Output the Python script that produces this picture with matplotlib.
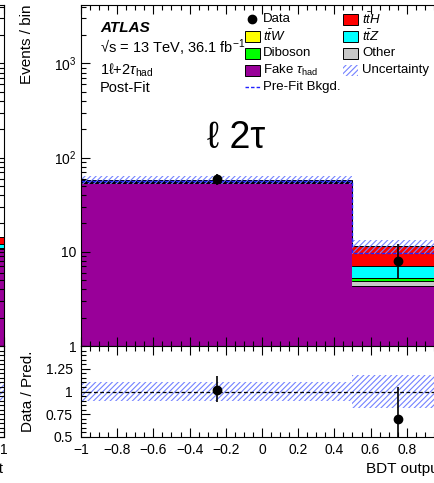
import numpy as np
import matplotlib
matplotlib.use("Agg")
import matplotlib.pyplot as plt
from matplotlib.patches import Rectangle
from matplotlib.lines import Line2D
from matplotlib.ticker import (FixedLocator, FixedFormatter, MultipleLocator,
                               LogLocator, NullFormatter, FuncFormatter)

plt.rcParams['font.family'] = ['Liberation Sans', 'DejaVu Sans']
plt.rcParams['mathtext.fontset'] = 'custom'
plt.rcParams['mathtext.rm'] = 'Liberation Sans'
plt.rcParams['mathtext.it'] = 'Liberation Sans:italic'
plt.rcParams['mathtext.bf'] = 'Liberation Sans:bold'
plt.rcParams['hatch.linewidth'] = 0.8

# binning of the BDT output
BINS = np.array([-1.0, 0.5, 1.0])
CENTERS = np.array([-0.25, 0.75])

# post-fit stack (bottom to top)
FAKE = np.array([53.5, 4.37])
OTHER = np.array([0.8, 0.48])
DIBOSON = np.array([0.6, 0.42])
TTW = np.array([0.5, 0.05])
TTZ = np.array([0.9, 1.7])
TTH = np.array([1.6, 4.4])

DATA = np.array([59.0, 8.0])
DATA_UP = np.array([8.7, 3.98])
DATA_DN = np.array([7.7, 2.76])
PREFIT_BKG = np.array([56.5, 9.8])
REL_UNC = np.array([0.105, 0.18])

# neighbouring panel, only its last bin shows at the left edge
LEFT_BINS = np.array([0.5, 1.0])
LEFT_FAKE = np.array([10.8])
LEFT_OTHER = np.array([0.1])
LEFT_DIBOSON = np.array([0.1])
LEFT_TTW = np.array([0.1])
LEFT_TTZ = np.array([1.1])
LEFT_TTH = np.array([2.0])
LEFT_REL_UNC = np.array([0.1])

COLORS = {'fake': '#990099', 'other': '#c8c8c8', 'diboson': '#00ff00',
          'ttw': '#ffff00', 'ttz': '#00ffff', 'tth': '#ff0000'}
HATCH_COL = '#7482ff'

W, H = 435, 483


def fx(px):
    return px / W


def fy(py):
    return 1 - py / H


def draw_stack(ax, bins, comps):
    # filled bars without edges, then a step outline for each layer
    widths = np.diff(bins)
    bottom = np.zeros(len(widths))
    for vals, col in comps:
        ax.bar(bins[:-1], vals, width=widths, bottom=bottom, align='edge',
               color=col, edgecolor='none', linewidth=0)
        bottom = bottom + vals
        ax.stairs(bottom, bins, baseline=None, color='black', linewidth=0.7)
    return bottom


def style_axes(ax):
    for sp in ax.spines.values():
        sp.set_linewidth(0.8)
        sp.set_zorder(6)
    ax.tick_params(which='both', direction='in', top=True, right=True,
                   width=0.8, labelsize=10)
    ax.tick_params(which='major', length=6.5)
    ax.tick_params(which='minor', length=3.3)


def fmt_x(v, _):
    if abs(v) < 1e-9:
        return '0'
    return f"{round(v, 2):g}".replace('-', '\u2212')


fig = plt.figure(figsize=(4.35, 4.83), dpi=100)

ax_w = 362 / W
main_b, main_h = fy(346), (346 - 5) / H
rat_b, rat_h = fy(437), (437 - 346) / H

ax = fig.add_axes([fx(81), main_b, ax_w, main_h])
ax_r = fig.add_axes([fx(81), rat_b, ax_w, rat_h], sharex=ax)
ax_l = fig.add_axes([fx(3.5) - ax_w, main_b, ax_w, main_h])
ax_lr = fig.add_axes([fx(3.5) - ax_w, rat_b, ax_w, rat_h], sharex=ax_l)

# ---- main panel
comps = [(FAKE, COLORS['fake']), (OTHER, COLORS['other']),
         (DIBOSON, COLORS['diboson']), (TTW, COLORS['ttw']),
         (TTZ, COLORS['ttz']), (TTH, COLORS['tth'])]
total = draw_stack(ax, BINS, comps)
ax.bar(BINS[:-1], 2 * total * REL_UNC, width=np.diff(BINS),
       bottom=total * (1 - REL_UNC), align='edge', fill=False,
       hatch='//////', edgecolor=HATCH_COL, linewidth=0)
ax.stairs(PREFIT_BKG, BINS, color='#2020ff', linestyle=(0, (2.5, 1.5)),
          linewidth=1.0, baseline=None)
ax.errorbar(CENTERS, DATA, yerr=[DATA_DN, DATA_UP], fmt='o', color='black',
            ms=6, elinewidth=1.2, capsize=0, zorder=5)

ax.set_yscale('log')
ax.set_ylim(1, 10 ** 3.62)
ax.set_xlim(-1, 1)
ax.yaxis.set_major_locator(FixedLocator([1, 10, 100, 1000]))
ax.yaxis.set_major_formatter(FixedFormatter(['1', '10', '$10^{2}$', '$10^{3}$']))
ax.yaxis.set_minor_locator(LogLocator(base=10, subs=np.arange(2, 10)))
ax.yaxis.set_minor_formatter(NullFormatter())
ax.xaxis.set_major_locator(MultipleLocator(0.2))
ax.xaxis.set_minor_locator(MultipleLocator(0.05))
style_axes(ax)
ax.tick_params(axis='x', labelbottom=False)
ax.tick_params(axis='y', pad=3)
ax.set_ylabel('Events / bin', fontsize=11, loc='top')
ax.yaxis.set_label_coords((34 - 81) / 362, 1.0)

# ---- ratio panel
ratio = DATA / total
ax_r.bar(BINS[:-1], 2 * REL_UNC, width=np.diff(BINS), bottom=1 - REL_UNC,
         align='edge', fill=False, hatch='//////', edgecolor=HATCH_COL,
         linewidth=0)
ax_r.axhline(1, color='black', linestyle=(0, (3, 2)), linewidth=0.9)
ax_r.errorbar(CENTERS, ratio, yerr=[DATA_DN / total, DATA_UP / total],
              fmt='o', color='black', ms=6, elinewidth=1.2, capsize=0, zorder=5)
ax_r.set_ylim(0.5, 1.5)
ax_r.yaxis.set_major_locator(FixedLocator([0.5, 0.75, 1.0, 1.25]))
ax_r.yaxis.set_major_formatter(FixedFormatter(['0.5', '0.75', '1', '1.25']))
ax_r.yaxis.set_minor_locator(MultipleLocator(0.05))
ax_r.xaxis.set_major_formatter(FuncFormatter(fmt_x))
style_axes(ax_r)
ax_r.tick_params(axis='y', pad=6)
ax_r.tick_params(axis='x', pad=4)
ax_r.set_ylabel('Data / Pred.', fontsize=11)
ax_r.yaxis.set_label_coords((35 - 81) / 362, 0.5)
ax_r.set_xlabel('BDT output', fontsize=11, loc='right')
ax_r.xaxis.set_label_coords(1.0, -0.28)

# ---- neighbouring panel (mostly off the canvas)
left_comps = [(LEFT_FAKE, COLORS['fake']), (LEFT_OTHER, COLORS['other']),
              (LEFT_DIBOSON, COLORS['diboson']), (LEFT_TTW, COLORS['ttw']),
              (LEFT_TTZ, COLORS['ttz']), (LEFT_TTH, COLORS['tth'])]
draw_stack(ax_l, LEFT_BINS, left_comps)
ax_l.set_yscale('log')
ax_l.set_ylim(1, 10 ** 3.62)
ax_l.set_xlim(-1, 1)
ax_l.yaxis.set_minor_locator(LogLocator(base=10, subs=np.arange(2, 10)))
ax_l.xaxis.set_major_locator(MultipleLocator(0.2))
ax_l.xaxis.set_minor_locator(MultipleLocator(0.05))
style_axes(ax_l)
ax_l.tick_params(axis='x', labelbottom=False)
ax_l.tick_params(axis='y', labelleft=False)
ax_lr.bar(LEFT_BINS[:-1], 2 * LEFT_REL_UNC, width=np.diff(LEFT_BINS),
          bottom=1 - LEFT_REL_UNC, align='edge', fill=False, hatch='//////',
          edgecolor=HATCH_COL, linewidth=0)
ax_lr.axhline(1, color='black', linestyle=(0, (3, 2)), linewidth=0.9)
ax_lr.set_ylim(0.5, 1.5)
ax_lr.yaxis.set_minor_locator(MultipleLocator(0.05))
ax_lr.xaxis.set_major_formatter(FuncFormatter(fmt_x))
style_axes(ax_lr)
ax_lr.tick_params(axis='x', pad=4)
ax_lr.tick_params(axis='y', labelleft=False)
ax_lr.set_xlabel('BDT output', fontsize=11, loc='right')
ax_lr.xaxis.set_label_coords(1.0, -0.28)

# ---- labels
fig.text(fx(100), fy(32), 'ATLAS', fontsize=11, fontweight='bold',
         fontstyle='italic', va='baseline')
fig.text(fx(100), fy(53), '\u221as = 13 TeV, 36.1 fb$^{-1}$', fontsize=10.5,
         va='baseline')
fig.text(fx(100), fy(75), '1\u2113+2$\\tau_{\\mathrm{had}}$', fontsize=10.5,
         va='baseline')
fig.text(fx(100), fy(92), 'Post-Fit', fontsize=10.5, va='baseline')
fig.text(fx(207), fy(148), '\u2113 2\u03c4', fontsize=27, va='baseline')

# ---- legend
rows = [19.3, 36.7, 53.3, 70.0, 87.3]


def leg_box(x0, yc, **kw):
    fig.add_artist(Rectangle((fx(x0), fy(yc + 5.5)), 15 / W, 11 / H,
                             transform=fig.transFigure, **kw))


fig.add_artist(Line2D([fx(252.5)], [fy(rows[0])], marker='o', ms=6,
                      color='black', transform=fig.transFigure))
leg_box(245, rows[1], facecolor=COLORS['ttw'], edgecolor='black', lw=0.7)
leg_box(245, rows[2], facecolor=COLORS['diboson'], edgecolor='black', lw=0.7)
leg_box(245, rows[3], facecolor=COLORS['fake'], edgecolor='black', lw=0.7)
fig.add_artist(Line2D([fx(245), fx(260)], [fy(rows[4])] * 2, color='#2020ff',
                      linestyle=(0, (2.5, 1.5)), lw=1.0,
                      transform=fig.transFigure))
leg_box(343, rows[0], facecolor=COLORS['tth'], edgecolor='black', lw=0.7)
leg_box(343, rows[1], facecolor=COLORS['ttz'], edgecolor='black', lw=0.7)
leg_box(343, rows[2], facecolor=COLORS['other'], edgecolor='black', lw=0.7)
leg_box(343, rows[3], fill=False, hatch='//////', edgecolor=HATCH_COL, lw=0)

col1 = ['Data', '$t\\bar{t}W$', 'Diboson', 'Fake $\\tau_{\\mathrm{had}}$',
        'Pre-Fit Bkgd.']
col2 = ['$t\\bar{t}H$', '$t\\bar{t}Z$', 'Other', 'Uncertainty']
for lab, yc in zip(col1, rows):
    fig.text(fx(263), fy(yc), lab, fontsize=9.5, va='center')
for lab, yc in zip(col2, rows):
    fig.text(fx(362), fy(yc), lab, fontsize=9.5, va='center')

fig.savefig('out.png', dpi=100)
